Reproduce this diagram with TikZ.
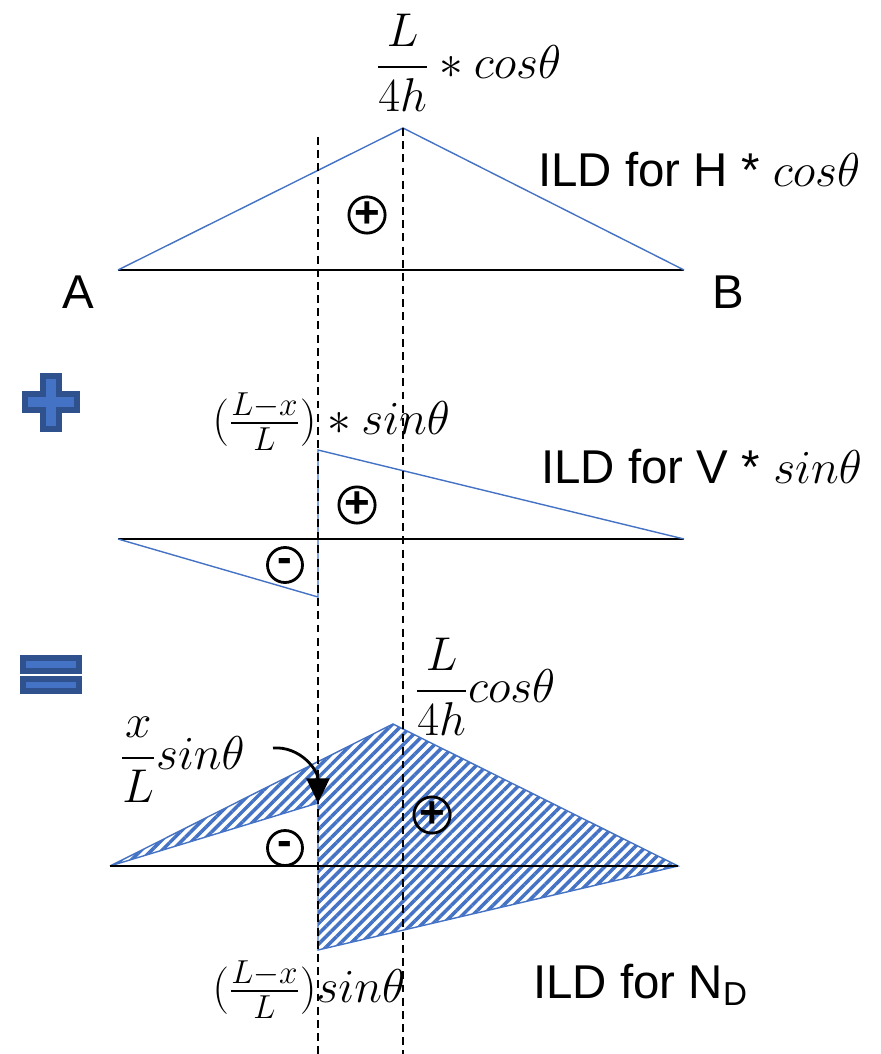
\RequirePackage{fix-cm}
\documentclass[tikz,border=0pt]{standalone}
\usepackage{fontspec}
\setmainfont{Liberation Sans}
\usepackage{amsmath}
\usetikzlibrary{arrows.meta, patterns.meta, positioning, calc}
\definecolor{ildblue}{HTML}{4472C4}
\definecolor{ilddark}{HTML}{2F528F}
\newcommand{\mbig}[1]{{\fontsize{27}{32}\selectfont$#1$}}

\begin{document}
\begin{tikzpicture}[x=0.02cm, y=-0.02cm,
    ild/.style={draw=ildblue, line width=0.8pt},
    axis/.style={draw=black, line width=1.1pt},
    guide/.style={draw=black, line width=0.8pt, dash pattern=on 4.5pt off 3pt},
    hatch/.style={pattern={Lines[angle=45, distance=4.2pt, line width=2pt]}, pattern color=ildblue},
    sign/.style={draw, circle, line width=1.6pt, minimum size=0.7cm, inner sep=0pt, font=\fontsize{25}{25}\selectfont\bfseries},
    lbl/.style={font=\fontsize{27}{32}\selectfont, inner sep=0pt},
    eqn/.style={inner sep=0pt, anchor=west},
    icon/.style={fill=ildblue, draw=ilddark, line width=3.2pt},
    pointer/.style={draw=black, line width=1.6pt, -{Triangle[length=14pt, width=13pt]}}]
    \useasboundingbox (0,0) rectangle (881,1054);

    % ILD for H * cos
    \coordinate (hA) at (118,270);
    \coordinate (hB) at (684,270);
    \coordinate (hTop) at (403,128);
    \draw[axis] (hA) -- (hB);
    \draw[ild] (hA) -- (hTop) -- (hB);
    \node[lbl] (labA) at (78,292) {A};
    \node[lbl] (labB) at (728,292) {B};
    \node[sign] (hPlus) at (367,215) {+};
    \node[eqn] (hVal) at (376,63) {\mbig{\dfrac{L}{4h}\ast cos\theta}};
    \node[lbl, anchor=west] (hName) at (538,170) {ILD for H * \mbig{cos\theta}};

    % plus icon
    \draw[icon] (42.8,375.8) -- (59.2,375.8) -- (59.2,393.8) -- (77.2,393.8) -- (77.2,410.2)
        -- (59.2,410.2) -- (59.2,429.2) -- (42.8,429.2) -- (42.8,410.2) -- (24.8,410.2)
        -- (24.8,393.8) -- (42.8,393.8) -- cycle;

    % ILD for V * sin
    \coordinate (vA) at (118,539);
    \coordinate (vB) at (684,539);
    \coordinate (vLow) at (318,597);
    \coordinate (vHigh) at (318,450);
    \draw[axis] (vA) -- (vB);
    \draw[ild] (vA) -- (vLow) -- (vHigh) -- (vB);
    \node[sign] (vMinus) at (285,565) {\raisebox{-2pt}{-}};
    \node[sign] (vPlus) at (357,505) {+};
    \node[eqn] (vVal) at (212,422) {\mbig{(\frac{L-x}{L})\ast sin\theta}};
    \node[lbl, anchor=west] (vName) at (541,467) {ILD for V * \mbig{sin\theta}};

    % equal icon
    \draw[icon] (23,658) rectangle (79,671);
    \draw[icon] (23,679) rectangle (79,691);

    % ILD for N_D
    \coordinate (nA) at (110,866);
    \coordinate (nB) at (678,866);
    \coordinate (nTop) at (393,724);
    \coordinate (nLow) at (318,950);
    \coordinate (nKink) at (318,803);
    \coordinate (nArr) at (273,748);
    \draw[ild, hatch] (nA) -- (nTop) -- (nB) -- (nLow) -- (nKink) -- cycle;
    \draw[axis] (nA) -- (nB);
    \node[sign, fill=white] (nMinus) at (285,848) {\raisebox{-2pt}{-}};
    \node[sign] (nPlus) at (432,815) {+};
    \node[eqn] (nSmall) at (120,760) {\mbig{\dfrac{x}{L}sin\theta}};
    \node[eqn] (nPeak) at (415,687) {\mbig{\dfrac{L}{4h}cos\theta}};
    \node[eqn] (nDrop) at (212,990) {\mbig{(\frac{L-x}{L})sin\theta}};
    \node[lbl, anchor=west] (nName) at (533,985) {ILD for N\textsubscript{D}};
    \draw[pointer] (nArr) .. controls (300,746) and (318,770) .. (nKink);

    % section lines
    \coordinate (xTop) at (318,137);
    \coordinate (xBot) at (318,1054);
    \coordinate (mBot) at (403,1054);
    \draw[guide] (xTop) -- (xBot);
    \draw[guide] (hTop) -- (mBot);
\end{tikzpicture}
\end{document}
